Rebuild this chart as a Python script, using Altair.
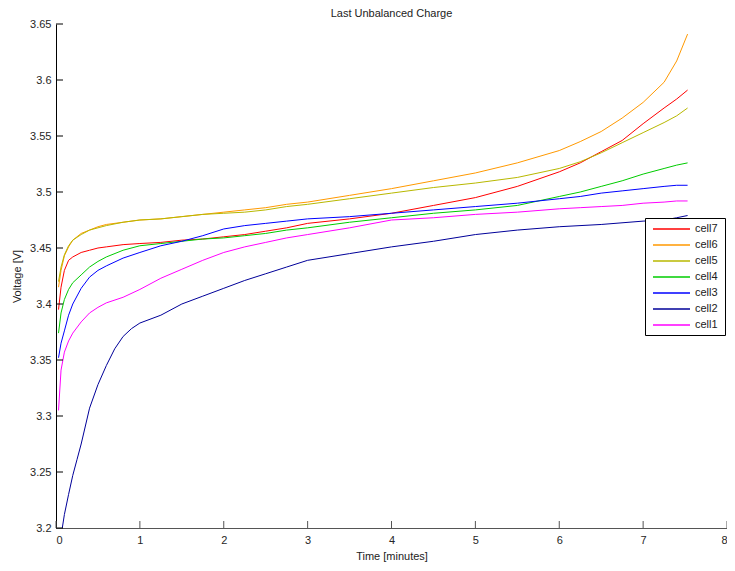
import altair as alt
import pandas as pd

# ---- data ----
TIME = [0.03, 0.06, 0.1, 0.15, 0.2, 0.3, 0.4, 0.5, 0.6, 0.8, 1.0, 1.25, 1.5, 1.75,
        2.0, 2.25, 2.5, 2.75, 3.0, 3.5, 4.0, 4.5, 5.0, 5.5, 6.0, 6.25, 6.5, 6.75,
        7.0, 7.25, 7.4, 7.53]

CELL7 = [3.395, 3.415, 3.430, 3.439, 3.442, 3.446, 3.448, 3.450, 3.451, 3.453, 3.454,
         3.455, 3.457, 3.458, 3.460, 3.462, 3.465, 3.468, 3.472, 3.476, 3.481, 3.488,
         3.495, 3.505, 3.518, 3.526, 3.536, 3.546, 3.561, 3.575, 3.583, 3.591]
CELL6 = [3.415, 3.430, 3.443, 3.451, 3.457, 3.463, 3.466, 3.469, 3.471, 3.473, 3.475,
         3.476, 3.478, 3.480, 3.482, 3.484, 3.486, 3.489, 3.491, 3.497, 3.503, 3.510,
         3.517, 3.526, 3.537, 3.545, 3.554, 3.566, 3.580, 3.598, 3.617, 3.641]
CELL5 = [3.420, 3.433, 3.444, 3.452, 3.457, 3.462, 3.466, 3.468, 3.470, 3.473, 3.475,
         3.476, 3.478, 3.480, 3.481, 3.482, 3.484, 3.487, 3.489, 3.494, 3.499, 3.504,
         3.508, 3.513, 3.521, 3.527, 3.535, 3.544, 3.553, 3.562, 3.568, 3.575]
CELL4 = [3.374, 3.392, 3.404, 3.413, 3.419, 3.426, 3.433, 3.438, 3.442, 3.448, 3.452,
         3.454, 3.456, 3.458, 3.459, 3.461, 3.463, 3.466, 3.468, 3.473, 3.477, 3.481,
         3.484, 3.488, 3.496, 3.500, 3.505, 3.510, 3.516, 3.521, 3.524, 3.526]
CELL3 = [3.352, 3.365, 3.376, 3.390, 3.400, 3.414, 3.424, 3.430, 3.434, 3.441, 3.446,
         3.452, 3.456, 3.461, 3.467, 3.470, 3.472, 3.474, 3.476, 3.478, 3.481, 3.484,
         3.487, 3.490, 3.494, 3.496, 3.499, 3.501, 3.503, 3.505, 3.506, 3.506]
CELL1 = [3.305, 3.341, 3.357, 3.367, 3.374, 3.384, 3.392, 3.397, 3.401, 3.406, 3.413,
         3.423, 3.431, 3.439, 3.446, 3.451, 3.455, 3.459, 3.462, 3.468, 3.475, 3.477,
         3.480, 3.482, 3.485, 3.486, 3.487, 3.488, 3.490, 3.491, 3.492, 3.492]

CELL2_TIME = [0.075, 0.1, 0.15, 0.2, 0.25, 0.3, 0.4, 0.5, 0.6, 0.7, 0.8, 0.9, 1.0, 1.25,
              1.5, 1.75, 2.0, 2.25, 2.5, 2.75, 3.0, 3.5, 4.0, 4.5, 5.0, 5.5, 6.0, 6.5,
              7.0, 7.25, 7.4, 7.53]
CELL2 = [3.200, 3.212, 3.230, 3.247, 3.261, 3.275, 3.307, 3.328, 3.345, 3.360, 3.371,
         3.378, 3.383, 3.390, 3.400, 3.407, 3.414, 3.421, 3.427, 3.433, 3.439, 3.445,
         3.451, 3.456, 3.462, 3.466, 3.469, 3.471, 3.474, 3.475, 3.477, 3.479]

SERIES = ["cell7", "cell6", "cell5", "cell4", "cell3", "cell2", "cell1"]
COLORS = ["#ff0000", "#ff9900", "#b8b800", "#00cc00", "#0000ff", "#000099", "#ff00ff"]

X_TICKS = [0, 1, 2, 3, 4, 5, 6, 7, 8]
Y_TICKS = [3.2, 3.25, 3.3, 3.35, 3.4, 3.45, 3.5, 3.55, 3.6, 3.65]

TITLE = "Last Unbalanced Charge"
X_TITLE = "Time [minutes]"
Y_TITLE = "Voltage [V]"

# ---- build long table ----
series_data = {
    "cell7": (TIME, CELL7),
    "cell6": (TIME, CELL6),
    "cell5": (TIME, CELL5),
    "cell4": (TIME, CELL4),
    "cell3": (TIME, CELL3),
    "cell2": (CELL2_TIME, CELL2),
    "cell1": (TIME, CELL1),
}
rows = []
for name in SERIES:
    ts, vs = series_data[name]
    for t, v in zip(ts, vs):
        rows.append({"series": name, "t": t, "v": v})
df = pd.DataFrame(rows)

FONT = "Liberation Sans"
W, H = 671, 504

x_scale = alt.Scale(domain=[0, 8], nice=False, zero=False)
y_scale = alt.Scale(domain=[3.2, 3.65], nice=False, zero=False)

x_axis = alt.Axis(title=X_TITLE, values=X_TICKS, format="d", ticks=False,
                  labelPadding=6, titlePadding=5, domainColor="#555555", grid=False)
y_axis = alt.Axis(title=Y_TITLE, values=Y_TICKS, format=".2~f", ticks=False,
                  labelPadding=5, titlePadding=7, domainColor="#000000", grid=False)

lines = alt.Chart(df).mark_line(strokeWidth=1, clip=True).encode(
    x=alt.X("t:Q", scale=x_scale, axis=x_axis),
    y=alt.Y("v:Q", scale=y_scale, axis=y_axis),
    color=alt.Color("series:N",
                    scale=alt.Scale(domain=SERIES, range=COLORS),
                    legend=alt.Legend(title=None, orient="none", legendX=596, legendY=197,
                                      symbolType="stroke", symbolSize=1369,
                                      symbolStrokeWidth=1.5, labelFontSize=11,
                                      labelFont=FONT, labelColor="#222222",
                                      labelOffset=4, clipHeight=16, rowPadding=0,
                                      padding=0, symbolOffset=0)),
    order=alt.Order("t:Q"),
)

legend_box = alt.Chart(pd.DataFrame({"k": [0]})).mark_rect(
    fill="white", stroke="black", strokeWidth=1
).encode(
    x=alt.value(589.5), x2=alt.value(669.5), y=alt.value(194.5), y2=alt.value(311.5)
)

y_ticks = alt.Chart(pd.DataFrame({"v": Y_TICKS})).mark_rule(
    color="#000000", strokeWidth=1
).encode(
    y=alt.Y("v:Q", scale=y_scale, axis=y_axis), x=alt.value(0), x2=alt.value(7)
)

x_ticks = alt.Chart(pd.DataFrame({"t": X_TICKS})).mark_rule(
    color="#555555", strokeWidth=1
).encode(
    x=alt.X("t:Q", scale=x_scale, axis=x_axis), y=alt.value(H), y2=alt.value(H - 7)
)

chart = alt.layer(lines, legend_box, y_ticks, x_ticks).properties(
    width=W, height=H,
    autosize=alt.AutoSizeParams(type="none"),
    padding={"left": 48, "top": 16, "right": 0, "bottom": 34},
    title=alt.TitleParams(TITLE, fontSize=11, fontWeight="normal", font=FONT,
                          color="#222222", offset=-1, anchor="middle"),
).configure_view(stroke=None).configure_axis(
    labelFont=FONT, labelFontSize=11, labelColor="#262626",
    titleFont=FONT, titleFontSize=11, titleFontWeight="normal", titleColor="#222222",
    domainWidth=1,
)

chart.save("out.html", embed_options={"renderer": "svg", "actions": False})
